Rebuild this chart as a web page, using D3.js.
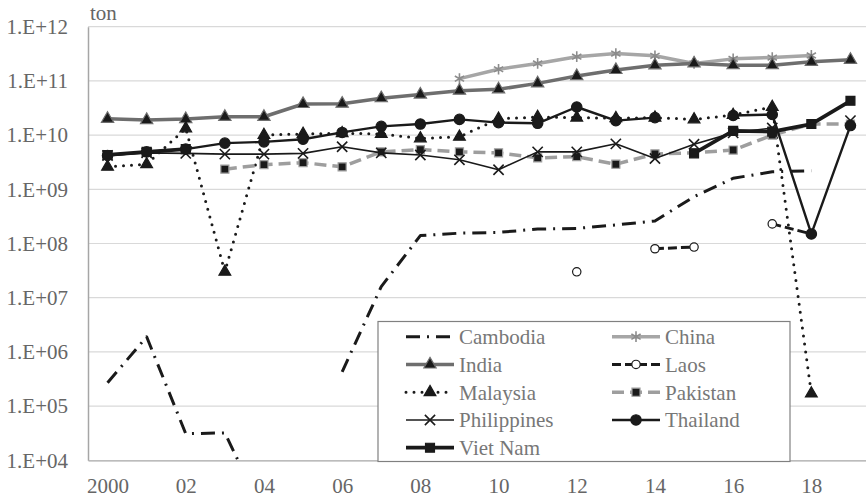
<!DOCTYPE html>
<html>
<head>
<meta charset="utf-8">
<script src="https://cdn.jsdelivr.net/npm/d3@7"></script>
<style>
  body { margin: 0; background: #fff; }
  svg text { font-family: "Liberation Serif", "DejaVu Serif", serif; }
</style>
</head>
<body>
<div id="chart"></div>
<script>
// years on the x axis and the tick labels shown under it
var years = d3.range(2000, 2020);
var yearLabels = ["2000", "02", "04", "06", "08", "10", "12", "14", "16", "18"];
var yTicks = [1e4, 1e5, 1e6, 1e7, 1e8, 1e9, 1e10, 1e11, 1e12];

// values in ton, one per year 2000..2019 (null = no data)
var cambodia = [2.7e5, 1.9e6, 3.1e4, 3.2e4, 1.0e3, null, 4.3e5, 1.6e7, 1.4e8, 1.55e8, 1.6e8, 1.85e8, 1.9e8, 2.2e8, 2.6e8, 7.3e8, 1.6e9, 2.1e9, 2.2e9, null];
var china = [null, null, null, null, null, null, null, null, null, 1.1e11, 1.64e11, 2.1e11, 2.8e11, 3.2e11, 2.9e11, 2.1e11, 2.55e11, 2.7e11, 2.95e11, null];
var india = [2.0e10, 1.9e10, 1.98e10, 2.18e10, 2.18e10, 3.75e10, 3.8e10, 4.8e10, 5.6e10, 6.6e10, 7.0e10, 9.0e10, 1.23e11, 1.59e11, 1.94e11, 2.1e11, 1.95e11, 1.95e11, 2.25e11, 2.45e11];
var laos = [null, null, null, null, null, null, null, null, null, null, null, null, 3.0e7, null, 8.0e7, 8.6e7, null, 2.3e8, 1.5e8, null];
var malaysia = [2.6e9, 2.9e9, 1.33e10, 3.0e7, 1.0e10, 1.05e10, 1.08e10, 1.05e10, 8.7e9, 9.3e9, 2.0e10, 2.15e10, 2.1e10, 2.05e10, 2.1e10, 1.95e10, 2.35e10, 3.3e10, 1.7e5, null];
var pakistan = [null, null, null, 2.35e9, 2.85e9, 3.1e9, 2.6e9, 4.9e9, 5.4e9, 4.9e9, 4.7e9, 3.8e9, 4.0e9, 2.9e9, 4.5e9, 4.7e9, 5.3e9, 1.0e10, 1.6e10, 1.6e10];
var philippines = [4.2e9, 4.7e9, 4.6e9, 4.45e9, 4.45e9, 4.6e9, 6.1e9, 4.7e9, 4.3e9, 3.5e9, 2.3e9, 4.9e9, 4.9e9, 6.9e9, 3.7e9, 6.8e9, 1.1e10, 1.35e10, null, 1.85e10];
var thailand = [4.2e9, 4.9e9, 5.5e9, 7.1e9, 7.5e9, 8.4e9, 1.12e10, 1.45e10, 1.6e10, 1.95e10, 1.7e10, 1.65e10, 3.3e10, 1.85e10, 2.1e10, null, 2.3e10, 2.4e10, 1.5e8, 1.5e10];
var vietnam = [4.3e9, 4.9e9, 5.5e9, null, null, null, null, null, null, null, null, null, null, null, null, 4.6e9, 1.2e10, 1.16e10, 1.6e10, 4.3e10];

// how each series is drawn
var series = [
  {name: "Cambodia", values: cambodia, stroke: "#1a1a1a", width: 3, dash: "14,7,2,7", marker: null},
  {name: "China", values: china, stroke: "#a6a6a6", width: 3.5, dash: null, marker: d3.symbolAsterisk, mfill: "none", mstroke: "#8c8c8c", msize: 80},
  {name: "India", values: india, stroke: "#6e6e6e", width: 3.5, dash: null, marker: d3.symbolTriangle, mfill: "#1a1a1a", mstroke: "#6e6e6e", msize: 65},
  {name: "Laos", values: laos, stroke: "#1a1a1a", width: 3, dash: "9,4", marker: d3.symbolCircle, mfill: "#fff", mstroke: "#1a1a1a", msize: 55},
  {name: "Malaysia", values: malaysia, stroke: "#1a1a1a", width: 3, dash: "0,8", cap: "round", marker: d3.symbolTriangle, mfill: "#1a1a1a", mstroke: "#1a1a1a", msize: 60},
  {name: "Pakistan", values: pakistan, stroke: "#9e9e9e", width: 3.5, dash: "12,6", marker: d3.symbolSquare, mfill: "#1a1a1a", mstroke: "#9e9e9e", msize: 65},
  {name: "Philippines", values: philippines, stroke: "#1a1a1a", width: 1.6, dash: null, marker: d3.symbolX, mfill: "none", mstroke: "#1a1a1a", msize: 70},
  {name: "Thailand", values: thailand, stroke: "#1a1a1a", width: 2.4, dash: null, marker: d3.symbolCircle, mfill: "#1a1a1a", mstroke: "#1a1a1a", msize: 85},
  {name: "Viet Nam", values: vietnam, stroke: "#1a1a1a", width: 3.8, dash: null, marker: d3.symbolSquare, mfill: "#1a1a1a", mstroke: "#1a1a1a", msize: 80}
];

var W = 866, H = 497;
var plotL = 88, plotR = 870, plotT = 26.7, plotB = 460.3;
var serif = "'Liberation Serif', 'DejaVu Serif', serif";

var svg = d3.select("#chart").append("svg")
  .attr("width", W)
  .attr("height", H)
  .attr("font-family", serif);

var x = d3.scalePoint()
  .domain(years)
  .range([plotL, plotR])
  .padding(0.5);

var y = d3.scaleLog()
  .domain([1e4, 1e12])
  .range([plotB, plotT]);

// gridlines
svg.append("g")
  .selectAll("line")
  .data(yTicks.slice(1))
  .enter().append("line")
  .attr("x1", plotL).attr("x2", W)
  .attr("y1", function(d) { return y(d); })
  .attr("y2", function(d) { return y(d); })
  .attr("stroke", "#d9d9d9")
  .attr("stroke-width", 1.2);

// y axis labels
var yAxis = svg.append("g")
  .attr("transform", "translate(" + plotL + ",0)")
  .call(d3.axisLeft(y).tickValues(yTicks).tickSize(0).tickPadding(20)
    .tickFormat(function(d) { return "1.E+" + d3.format("02")(Math.round(Math.log10(d))); }));
yAxis.attr("font-family", serif);
yAxis.select(".domain").attr("stroke", "#a6a6a6").attr("stroke-width", 1.5);
yAxis.selectAll("text")
  .attr("fill", "#666")
  .style("font-size", "21px");

// x axis
var xAxis = svg.append("g")
  .attr("transform", "translate(0," + plotB + ")")
  .call(d3.axisBottom(x).tickSize(0).tickPadding(18)
    .tickValues(years.filter(function(d) { return d % 2 === 0; }))
    .tickFormat(function(d, i) { return yearLabels[i]; }));
xAxis.attr("font-family", serif);
xAxis.select(".domain").attr("stroke", "#a6a6a6").attr("stroke-width", 1.2);
xAxis.selectAll("text")
  .attr("fill", "#666")
  .style("font-size", "21px");

svg.append("text")
  .attr("x", 90).attr("y", 20)
  .attr("fill", "#666")
  .style("font-size", "21px")
  .text("ton");

svg.append("clipPath").attr("id", "plot")
  .append("rect")
  .attr("x", plotL).attr("y", 0)
  .attr("width", W - plotL).attr("height", plotB);

var line = d3.line()
  .defined(function(d) { return d.v != null; })
  .x(function(d) { return x(d.year); })
  .y(function(d) { return y(d.v); });

var plot = svg.append("g").attr("clip-path", "url(#plot)");

function drawMarker(g, s, px, py) {
  if (!s.marker) return;
  g.append("path")
    .attr("d", d3.symbol().type(s.marker).size(s.msize)())
    .attr("transform", "translate(" + px + "," + py + ")")
    .attr("fill", s.mfill)
    .attr("stroke", s.mstroke)
    .attr("stroke-width", s.marker === d3.symbolX || s.marker === d3.symbolAsterisk ? 1.6 : 1.2);
}

series.forEach(function(s) {
  var pts = years.map(function(yr, i) { return {year: yr, v: s.values[i]}; });
  var g = plot.append("g");
  g.append("path")
    .datum(pts)
    .attr("fill", "none")
    .attr("stroke", s.stroke)
    .attr("stroke-width", s.width)
    .attr("stroke-dasharray", s.dash)
    .attr("stroke-linecap", s.cap || "butt")
    .attr("stroke-linejoin", "round")
    .attr("d", line);
  pts.forEach(function(p) {
    if (p.v != null && p.v >= 1e4) drawMarker(g, s, x(p.year), y(p.v));
  });
});

// legend
var lg = svg.append("g");
lg.append("rect")
  .attr("x", 378).attr("y", 321.5)
  .attr("width", 412).attr("height", 140)
  .attr("fill", "#fff")
  .attr("stroke", "#808080")
  .attr("stroke-width", 1.2);

var col1 = ["Cambodia", "India", "Malaysia", "Philippines", "Viet Nam"];
var col2 = ["China", "Laos", "Pakistan", "Thailand"];

function legendItem(name, lx, ly) {
  var s = series.filter(function(d) { return d.name === name; })[0];
  lg.append("line")
    .attr("x1", lx).attr("x2", lx + 48)
    .attr("y1", ly).attr("y2", ly)
    .attr("stroke", s.stroke)
    .attr("stroke-width", s.width)
    .attr("stroke-dasharray", s.dash)
    .attr("stroke-linecap", s.cap || "butt");
  drawMarker(lg, s, lx + 24, ly);
  lg.append("text")
    .attr("x", lx + 53).attr("y", ly)
    .attr("dy", "0.35em")
    .attr("fill", "#777")
    .style("font-size", "21px")
    .text(name);
}

col1.forEach(function(n, i) { legendItem(n, 406, 336.7 + i * 27.75); });
col2.forEach(function(n, i) { legendItem(n, 612, 336.7 + i * 27.75); });
</script>
</body>
</html>
